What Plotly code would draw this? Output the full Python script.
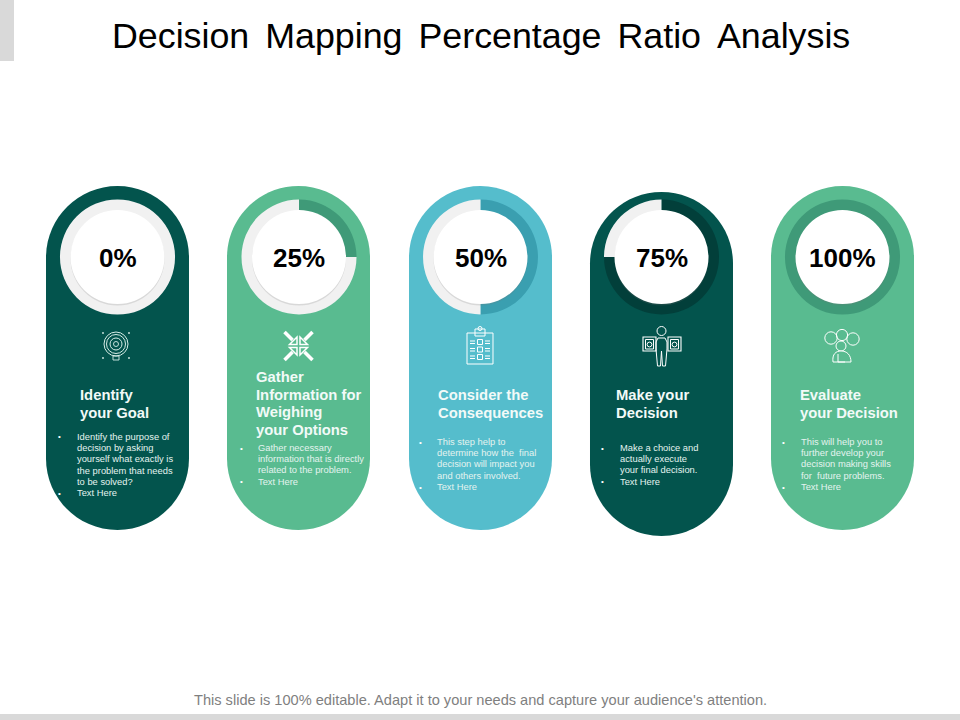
import plotly.graph_objects as go

# ---------------------------- data ----------------------------
TITLE = "Decision Mapping Percentage Ratio Analysis"
FOOTER = "This slide is 100% editable. Adapt it to your needs and capture your audience's attention."
percent = [0, 25, 50, 75, 100]
headings = [
    ["Identify", "your Goal"],
    ["Gather", "Information for", "Weighing", "your Options"],
    ["Consider the", "Consequences"],
    ["Make your", "Decision"],
    ["Evaluate", "your Decision"],
]
body_lines = [
    ["Identify the purpose of", "decision by asking", "yourself what exactly is",
     "the problem that needs", "to be solved?", "Text Here"],
    ["Gather necessary", "information that is directly", "related to the problem.", "Text Here"],
    ["This step help to", "determine how the  final", "decision will impact you",
     "and others involved.", "Text Here"],
    ["Make a choice and", "actually execute", "your final decision.", "Text Here"],
    ["This will help you to", "further develop your", "decision making skills",
     "for  future problems.", "Text Here"],
]

# ---------------------------- layout (pixels) ----------------------------
W, H = 960, 720
card_x = [46, 227, 409, 590, 771]
card_top = [186, 186, 186, 192, 186]
card_w = 143
card_h = 344
ring_cx = [117.5, 299, 480.5, 661.5, 842.5]
ring_cy = 257
ring_r = 57.5
hole_r = 47
card_col = ["#03544d", "#59bb90", "#55bdcc", "#03544d", "#59bb90"]
ring_col = ["#023f3a", "#3f9a78", "#3a9fb0", "#023f3a", "#3f9a78"]
TRACK = "#f1f1f1"
head_x = [80, 256, 438, 616, 800]
head_y = [[395, 413], [377, 395, 412, 430], [395, 413], [395, 413], [395, 413]]
body_x = [77, 258, 437, 620, 801]
bullet_x = [59, 241, 420, 602, 783]
body_y = [
    [437, 448, 459, 471, 482, 493],
    [448, 459, 470, 482],
    [442, 453, 464, 476, 487],
    [448, 459, 470, 482],
    [442, 453, 464, 476, 487],
]
bullet_idx = [[0, 5], [0, 3], [0, 4], [0, 3], [0, 4]]


def X(v):
    return v / W


def Y(v):
    return 1 - v / H


def path_of(cmds):
    """cmds = list of (letter, x1, y1, x2, y2, ...) in pixels -> paper path string"""
    out = []
    for c in cmds:
        nums = []
        for i, v in enumerate(c[1:]):
            nums.append(f"{X(v) if i % 2 == 0 else Y(v):.5f}")
        out.append(c[0] + " " + " ".join(nums))
    return " ".join(out)


def poly(pts, close=False):
    cmds = [("M", *pts[0])] + [("L", *p) for p in pts[1:]]
    s = path_of(cmds)
    return s + " Z" if close else s


def rect_pts(x0, y0, x1, y1):
    return poly([(x0, y0), (x1, y0), (x1, y1), (x0, y1)], close=True)


def pill(x, y, w, h):
    r = w / 2
    k = r * 0.5523
    return path_of([
        ("M", x, y + r),
        ("C", x, y + r - k, x + r - k, y, x + r, y),
        ("C", x + r + k, y, x + w, y + r - k, x + w, y + r),
        ("L", x + w, y + h - r),
        ("C", x + w, y + h - r + k, x + r + k, y + h, x + r, y + h),
        ("C", x + r - k, y + h, x, y + h - r + k, x, y + h - r),
    ]) + " Z"


shapes = []


def add_path(p, color="#ffffff", width=1, fill=None):
    shapes.append(dict(type="path", xref="paper", yref="paper", path=p, layer="above",
                       line=dict(color=color, width=width),
                       fillcolor=fill if fill else "rgba(0,0,0,0)"))


def add_circle(cx, cy, r, color="#ffffff", width=1, fill=None):
    shapes.append(dict(type="circle", xref="paper", yref="paper", layer="above",
                       x0=X(cx - r), x1=X(cx + r), y0=Y(cy + r), y1=Y(cy - r),
                       line=dict(color=color, width=width),
                       fillcolor=fill if fill else "rgba(0,0,0,0)"))


def add_block(x0, y0, x1, y1, color):
    shapes.append(dict(type="rect", xref="paper", yref="paper", layer="below",
                       x0=X(x0), x1=X(x1), y0=Y(y1), y1=Y(y0),
                       line=dict(width=0), fillcolor=color))


# ---------------------------- icons ----------------------------
def icon_target():
    for r in (12, 9.5, 6):
        add_circle(116, 344, r, color="#d5ece6", width=1)
    add_circle(116, 344, 2.5, color="#d5ece6", width=0.9)
    add_path(rect_pts(113, 356, 119, 360), color="#d5ece6", width=0.9)
    for dx, dy in [(103, 333), (129, 333), (103, 358), (129, 358)]:
        add_circle(dx, dy, 0.9, fill="#d5ece6", width=0)


def icon_arrows():
    cx, cy = 298.5, 346
    for sx in (-1, 1):
        for sy in (-1, 1):
            add_path(poly([(cx + sx * 14, cy + sy * 14), (cx + sx * 6, cy + sy * 6)]), width=3.5)
            add_path(poly([(cx + sx * 1.5, cy + sy * 1.5), (cx + sx * 1.5, cy + sy * 9),
                           (cx + sx * 9, cy + sy * 1.5)], close=True), width=1.5)


def icon_clipboard():
    add_path(rect_pts(467, 333, 493, 364))
    add_path(rect_pts(475, 329, 485, 336))
    add_circle(480, 328.5, 2)
    for y in (342, 349.5, 357):
        add_path(rect_pts(477.5, y - 2.5, 482.5, y + 2.5))
        add_path(poly([(470, y - 1), (475, y - 1)]))
        add_path(poly([(470, y + 1.5), (475, y + 1.5)]))
        add_path(poly([(485, y - 1), (490, y - 1)]))
        add_path(poly([(485, y + 1.5), (490, y + 1.5)]))


def icon_person():
    add_circle(661.5, 331, 4.5)
    add_path(poly([(656, 342), (656, 349), (657.5, 366), (660.5, 366), (661.5, 351),
                   (662.5, 366), (665.5, 366), (667, 349), (667, 342)]))
    add_path(poly([(656, 342), (658, 338), (665, 338), (667, 342)]))
    for x0, x1 in [(643, 656), (668, 681)]:
        add_path(rect_pts(x0, 337, x1, 351), width=1.1)
        add_path(rect_pts(x0 + 2.5, 339.5, x1 - 2.5, 349))
        add_circle((x0 + x1) / 2, 344.5, 2.4)


def icon_people():
    add_circle(831, 338, 6.2)
    add_circle(842, 335, 5.6)
    add_circle(853, 339, 6.2)
    add_circle(841, 346, 5, fill="#59bb90")
    add_path(path_of([("M", 833, 362), ("C", 832, 354, 836, 351, 841, 351),
                      ("C", 847, 351, 851, 355, 851, 362)]) + " Z", fill="#59bb90")
    add_path(poly([(838, 354), (838, 362), (845, 362)]))


# ---------------------------- figure ----------------------------
fig = go.Figure()

add_block(0, 0, 14, 61, "#d9d9d9")
add_block(0, 714, 960, 720, "#d9d9d9")

for i in range(5):
    shapes.append(dict(type="path", xref="paper", yref="paper", layer="below",
                       path=pill(card_x[i], card_top[i], card_w, card_h),
                       line=dict(width=0), fillcolor=card_col[i]))
    # progress ring, clockwise from 12 o'clock; hole runs a bit under the white
    # centre so no card colour shows through at the antialiased edge
    fig.add_trace(go.Pie(
        values=[percent[i], 100 - percent[i]],
        labels=["done", "left"],
        hole=(hole_r - 3) / ring_r,
        sort=False, direction="clockwise", rotation=0,
        textinfo="none", hoverinfo="skip", showlegend=False,
        marker=dict(colors=[ring_col[i], TRACK], line=dict(width=0)),
        domain=dict(x=[X(ring_cx[i] - ring_r), X(ring_cx[i] + ring_r)],
                    y=[Y(ring_cy + ring_r), Y(ring_cy - ring_r)]),
    ))
    # white centre with a soft shadow on the lower edge
    add_circle(ring_cx[i], ring_cy + 1.5, hole_r, color="rgba(0,0,0,0)", width=0,
               fill="rgba(120,120,120,0.2)")
    add_circle(ring_cx[i], ring_cy, hole_r, color="rgba(0,0,0,0)", width=0, fill="#ffffff")

icon_target()
icon_arrows()
icon_clipboard()
icon_person()
icon_people()

ann = []


def text(x, y, s, size, color="#ffffff", bold=False, anchor="left"):
    ann.append(dict(xref="paper", yref="paper", x=X(x), y=Y(y), text=f"<b>{s}</b>" if bold else s,
                    showarrow=False, xanchor=anchor, yanchor="middle",
                    font=dict(family="Liberation Sans", size=size, color=color),
                    borderpad=0, borderwidth=0))


text(481, 36, TITLE.replace(" ", "\u00a0\u200a\u200a"), 35.8, color="#000000", anchor="center")
text(480.5, 700, FOOTER, 14.6, color="#7f7f7f", anchor="center")

for i in range(5):
    text(ring_cx[i], 258, f"{percent[i]}%", 26, color="#000000", bold=True, anchor="center")
    for s, y in zip(headings[i], head_y[i]):
        text(head_x[i], y, s, 14.8, color="#f2faf8", bold=True)
    for s, y in zip(body_lines[i], body_y[i]):
        text(body_x[i], y, s, 9.35, color="#e4f3ef")
    for j in bullet_idx[i]:
        text(bullet_x[i], body_y[i][j], "\u2022", 8, anchor="center")

fig.update_layout(
    width=W, height=H,
    margin=dict(l=0, r=0, t=0, b=0),
    paper_bgcolor="#ffffff",
    showlegend=False,
    shapes=shapes,
    annotations=ann,
)

fig.write_html("out.html", config={"displayModeBar": False},
               post_script="document.body.style.margin='0';")
